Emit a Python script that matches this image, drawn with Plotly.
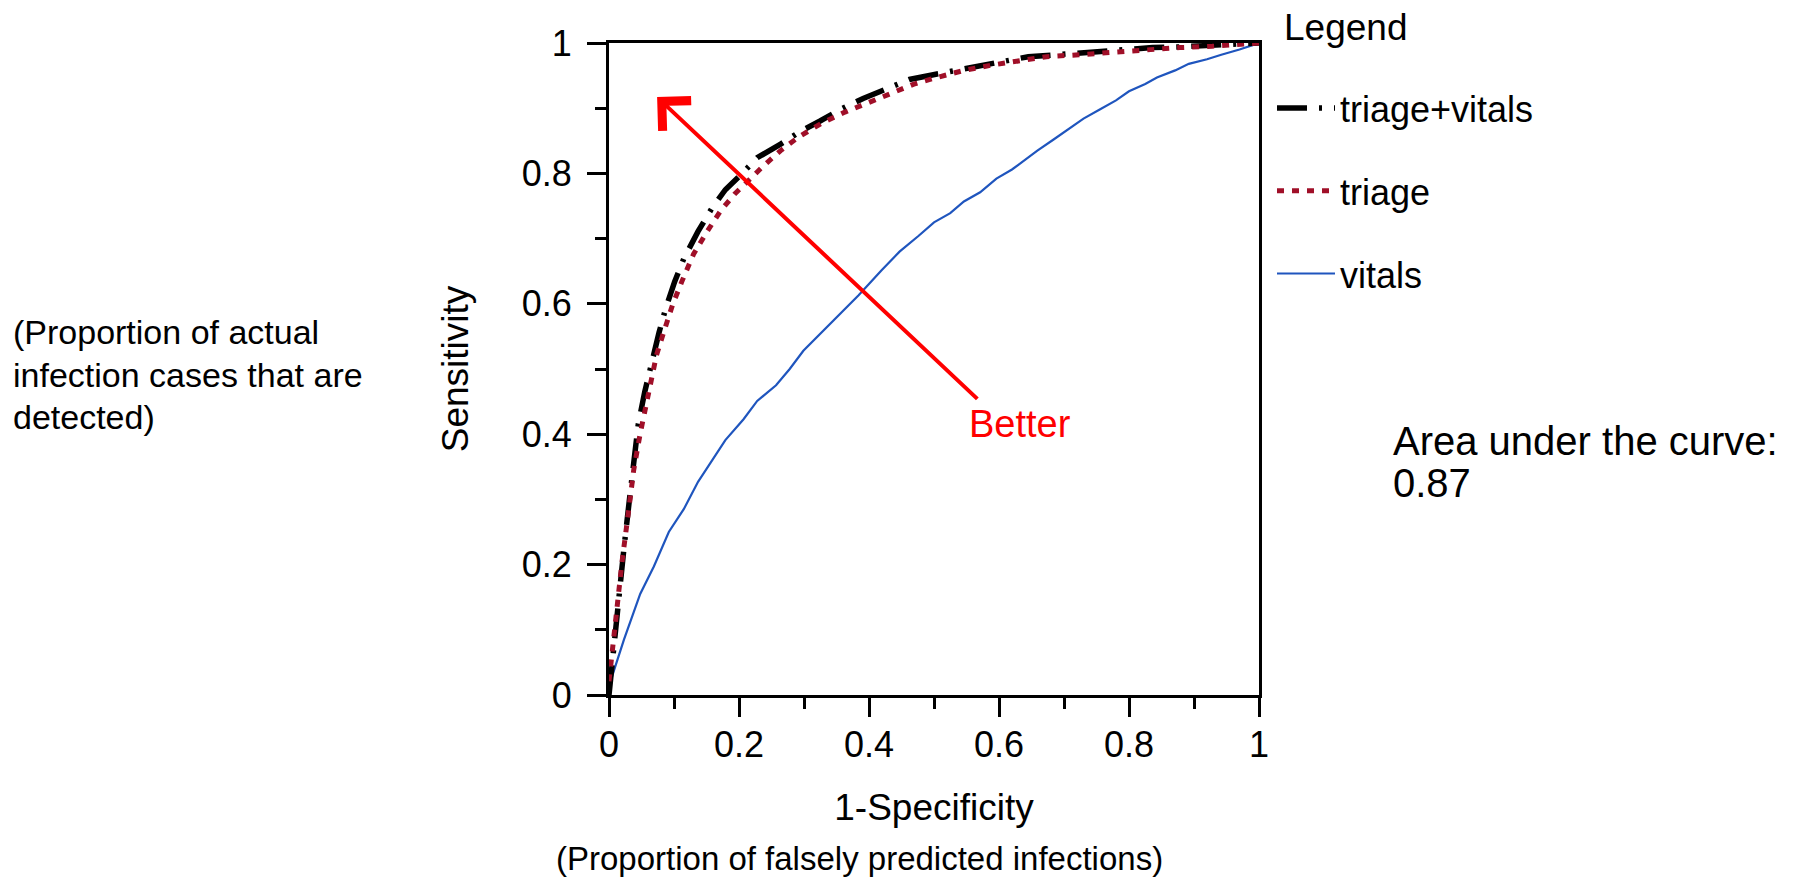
import plotly.graph_objects as go

# ---- data ----
tv_x = [0, 0.006, 0.013, 0.023, 0.031, 0.038, 0.045, 0.055, 0.066, 0.077, 0.087, 0.101, 0.115, 0.137,
        0.158, 0.179, 0.204, 0.228, 0.264, 0.292, 0.324, 0.356, 0.391, 0.427, 0.462, 0.497, 0.532,
        0.567, 0.603, 0.645, 0.688, 0.737, 0.786, 0.836, 0.878, 0.928, 1.0]
tv_y = [0, 0.063, 0.134, 0.225, 0.296, 0.359, 0.415, 0.465, 0.514, 0.556, 0.592, 0.634, 0.669, 0.711,
        0.746, 0.775, 0.799, 0.824, 0.845, 0.863, 0.880, 0.898, 0.915, 0.930, 0.944, 0.951, 0.958,
        0.965, 0.972, 0.979, 0.982, 0.986, 0.989, 0.993, 0.994, 0.996, 1.0]

tr_x = [0, 0.009, 0.020, 0.031, 0.038, 0.048, 0.059, 0.073, 0.084, 0.098, 0.112, 0.130, 0.151, 0.172,
        0.193, 0.214, 0.236, 0.264, 0.292, 0.327, 0.363, 0.398, 0.433, 0.469, 0.504, 0.546, 0.588,
        0.631, 0.673, 0.723, 0.772, 0.829, 0.878, 0.928, 1.0]
tr_y = [0.021, 0.106, 0.204, 0.289, 0.345, 0.401, 0.458, 0.521, 0.556, 0.599, 0.634, 0.676, 0.711, 0.743,
        0.768, 0.789, 0.810, 0.835, 0.856, 0.877, 0.894, 0.908, 0.923, 0.937, 0.947, 0.958, 0.966,
        0.973, 0.979, 0.982, 0.986, 0.989, 0.993, 0.995, 1.0]

vi_x = [0, 0.023, 0.048, 0.069, 0.092, 0.115, 0.137, 0.158, 0.179, 0.207, 0.228, 0.257, 0.278, 0.299,
        0.327, 0.356, 0.384, 0.419, 0.447, 0.476, 0.500, 0.525, 0.546, 0.571, 0.596, 0.620, 0.638,
        0.659, 0.684, 0.709, 0.730, 0.755, 0.780, 0.800, 0.825, 0.843, 0.871, 0.892, 0.920, 0.942,
        0.970, 1.0]
vi_y = [0.014, 0.085, 0.155, 0.197, 0.250, 0.285, 0.327, 0.359, 0.391, 0.423, 0.451, 0.475, 0.500, 0.528,
        0.556, 0.585, 0.613, 0.651, 0.680, 0.704, 0.725, 0.739, 0.757, 0.771, 0.792, 0.806, 0.820,
        0.835, 0.852, 0.870, 0.884, 0.898, 0.912, 0.926, 0.937, 0.947, 0.958, 0.968, 0.975, 0.982,
        0.990, 1.0]

tick_vals = [0, 0.2, 0.4, 0.6, 0.8, 1]
tick_text = ["0", "0.2", "0.4", "0.6", "0.8", "1"]

series_names = ["triage+vitals", "triage", "vitals"]
arrow_tail = (0.569, 0.452)
arrow_head = (0.074, 0.917)
better_pos = (0.632, 0.416)
left_lines = ["(Proportion of actual", "infection cases that are", "detected)"]
auc_lines = ["Area under the curve:", "0.87"]
x_subtitle = "(Proportion of falsely predicted infections)"

FONT = "Liberation Sans, Arial, sans-serif"

# plot-area pixel geometry (for placing paper-referenced text)
PL, PR, PT, PB = 609, 1259, 43, 695
W, H = 1795, 879


def px_to_paper(px, py):
    return (px - PL) / (PR - PL), (PB - py) / (PB - PT)


fig = go.Figure()
fig.add_trace(go.Scatter(x=vi_x, y=vi_y, mode="lines", name=series_names[2], legendrank=3,
                         legendgroup="g3", line=dict(color="#1F55BE", width=2.2)))
fig.add_trace(go.Scatter(x=tv_x, y=tv_y, mode="lines", name=series_names[0], legendrank=1,
                         legendgroup="g1", line=dict(color="black", width=5.5, dash="30px,12px,3px,12px")))
fig.add_trace(go.Scatter(x=tr_x, y=tr_y, mode="lines", name=series_names[1], legendrank=2,
                         legendgroup="g2", line=dict(color="#A00F28", width=5, dash="7px,8px")))

axis_common = dict(
    range=[0, 1], showgrid=False, zeroline=False,
    showline=True, linecolor="black", linewidth=3, mirror=True,
    ticks="outside", ticklen=19, tickwidth=3, tickcolor="black",
    tickvals=tick_vals, ticktext=tick_text,
    tickfont=dict(family=FONT, size=36, color="black"),
    minor=dict(ticks="outside", ticklen=11, tickwidth=3, tickcolor="black", dtick=0.1, showgrid=False),
    fixedrange=True,
)

fig.update_layout(
    width=W, height=H,
    margin=dict(l=PL, r=W - PR, t=PT, b=H - PB, autoexpand=False),
    paper_bgcolor="white", plot_bgcolor="white",
    font=dict(family=FONT, color="black"),
    showlegend=True,
    legend=dict(
        x=1.02, y=px_to_paper(0, 78)[1], xanchor="left", yanchor="top",
        font=dict(family=FONT, size=36, color="black"),
        tracegroupgap=33, itemwidth=58,
        bgcolor="rgba(0,0,0,0)",
    ),
    xaxis=dict(axis_common, ticklabelstandoff=-3,
               title=dict(text="1-Specificity", font=dict(family=FONT, size=37), standoff=30)),
    yaxis=dict(axis_common, ticklabelstandoff=8,
               title=dict(text="Sensitivity", font=dict(family=FONT, size=37), standoff=42)),
)

fig.add_annotation(x=arrow_head[0], y=arrow_head[1], ax=arrow_tail[0], ay=arrow_tail[1],
                   xref="x", yref="y", axref="x", ayref="y", text="",
                   showarrow=True, arrowhead=4, arrowsize=2, arrowwidth=4, arrowcolor="#FF0000")
fig.add_annotation(x=better_pos[0], y=better_pos[1], xref="x", yref="y", text="Better",
                   xanchor="center", yanchor="middle",
                   showarrow=False, font=dict(family=FONT, size=38, color="#FF0000"))

lx, ly = px_to_paper(1282, 27.5)
fig.add_annotation(x=lx, y=ly, xref="paper", yref="paper", xanchor="left", yanchor="middle",
                   text="Legend", showarrow=False, font=dict(family=FONT, size=37, color="black"))

sx, sy = px_to_paper(859, 859)
fig.add_annotation(x=sx, y=sy, xref="paper", yref="paper", xanchor="center", yanchor="middle",
                   text=x_subtitle, showarrow=False, font=dict(family=FONT, size=33, color="black"))

for text, cy in zip(left_lines, [332, 375, 417]):
    px, py = px_to_paper(11, cy)
    fig.add_annotation(x=px, y=py, xref="paper", yref="paper", xanchor="left", yanchor="middle",
                       text=text, showarrow=False, font=dict(family=FONT, size=34, color="black"))

for text, cy in zip(auc_lines, [441, 483]):
    px, py = px_to_paper(1391, cy)
    fig.add_annotation(x=px, y=py, xref="paper", yref="paper", xanchor="left", yanchor="middle",
                       text=text, showarrow=False, font=dict(family=FONT, size=40, color="black"))

fig.write_html("out.html")
